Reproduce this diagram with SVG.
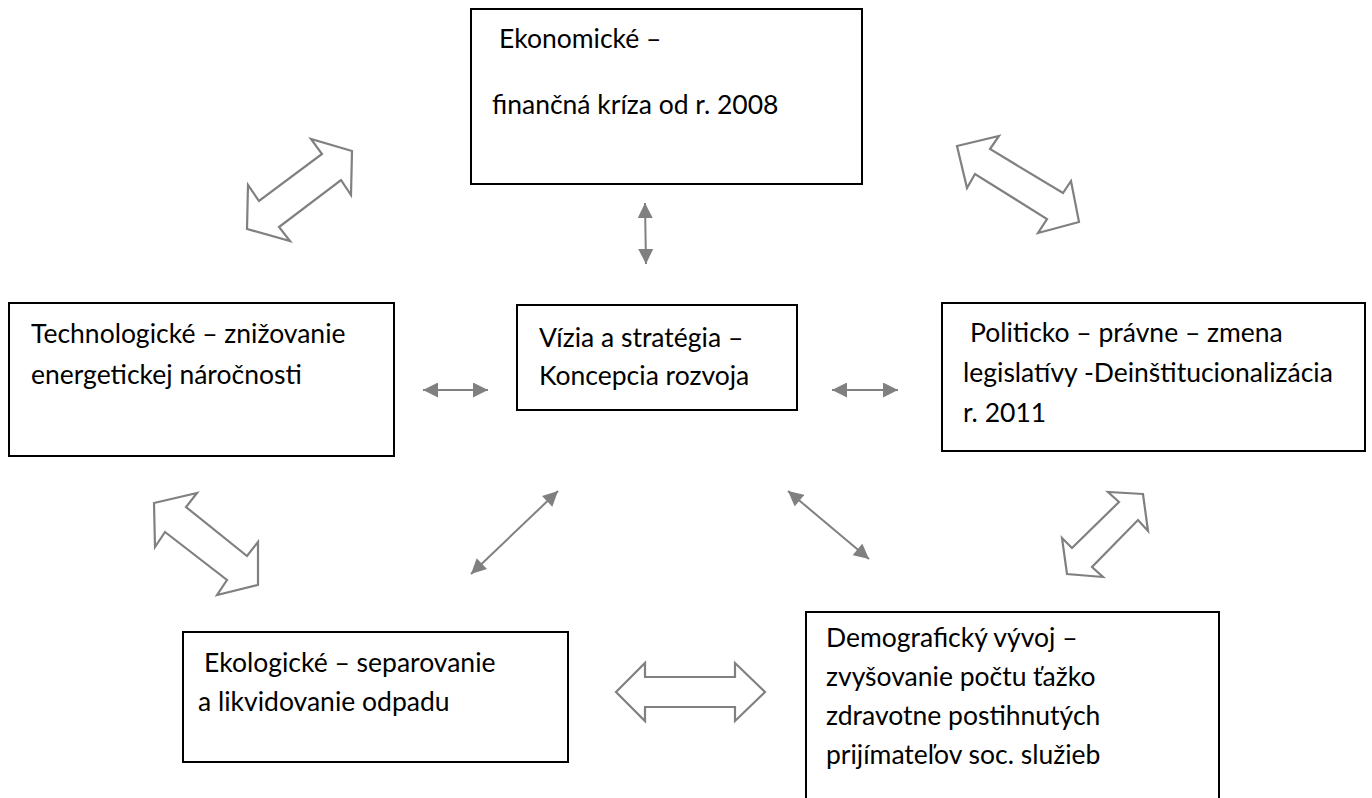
<svg xmlns="http://www.w3.org/2000/svg" width="1372" height="798" viewBox="0 0 1372 798">
<style>
.box{fill:#fff;stroke:#000;stroke-width:2}
.t{font-family:Lato,"Open Sans","Liberation Sans",sans-serif;font-size:26.5px;fill:#000}
.hollow{fill:#fff;stroke:#808080;stroke-width:2.2;stroke-linejoin:miter}
.solid{stroke:#808080;stroke-width:2;fill:none;marker-start:url(#ah);marker-end:url(#ah)}
</style>
<defs>
<marker id="ah" viewBox="0 0 10 10" refX="10" refY="5" markerWidth="16" markerHeight="15" markerUnits="userSpaceOnUse" orient="auto-start-reverse">
<path d="M0,0 L10,5 L0,10 z" fill="#808080"/>
</marker>
</defs>
<rect width="1372" height="798" fill="#fff"/>
<g id="connectors">
<polygon class="hollow" points="352,151 311,139 322,154 259,201 248,185 247,229 290,241 279,227 341,180 351,195"/>
<polygon class="hollow" points="957,146 999,136 990,149 1063,193 1071,181 1079,222 1038,233 1047,219 975,174 967,188"/>
<polygon class="hollow" points="154,503 197,493 186,507 247,556 258,542 258,585 217,595 227,580 165,532 155,547"/>
<polygon class="hollow" points="1143,494 1108,492 1119,502 1072,548 1062,538 1067,574 1103,577 1092,567 1138,520 1148,531"/>
<polygon class="hollow" points="616,692 645,663 645,677 735,677 735,663 765,692 735,721 735,707 645,707 645,721"/>
<line class="solid" x1="645" y1="203" x2="646" y2="264"/>
<line class="solid" x1="423" y1="390" x2="488" y2="390"/>
<line class="solid" x1="832" y1="390" x2="898" y2="390"/>
<line class="solid" x1="558" y1="491" x2="471" y2="574"/>
<line class="solid" x1="788" y1="491" x2="869" y2="559"/>
</g>
<g id="node-ekonomicke">
<rect class="box" x="471" y="9" width="391" height="175"/>
<text class="t" x="499" y="48">Ekonomické –</text>
<text class="t" x="492" y="114">finančná kríza od r. 2008</text>
</g>
<g id="node-technologicke">
<rect class="box" x="9" y="303" width="385" height="153"/>
<text class="t" x="31" y="343">Technologické – znižovanie</text>
<text class="t" x="31" y="384">energetickej náročnosti</text>
</g>
<g id="node-vizia">
<rect class="box" x="517" y="305" width="280" height="105"/>
<text class="t" x="539" y="347">Vízia a stratégia –</text>
<text class="t" x="539" y="385">Koncepcia rozvoja</text>
</g>
<g id="node-politicko">
<rect class="box" x="942" y="303" width="423" height="148"/>
<text class="t" x="970" y="342">Politicko – právne – zmena</text>
<text class="t" x="963" y="382">legislatívy -Deinštitucionalizácia</text>
<text class="t" x="963" y="422">r. 2011</text>
</g>
<g id="node-ekologicke">
<rect class="box" x="183" y="632" width="385" height="130"/>
<text class="t" x="204" y="672">Ekologické – separovanie</text>
<text class="t" x="198" y="711">a likvidovanie odpadu</text>
</g>
<g id="node-demograficky">
<path class="box" d="M806,800 V612 H1219 V800"/>
<text class="t" x="826" y="647">Demografický vývoj –</text>
<text class="t" x="826" y="686">zvyšovanie počtu ťažko</text>
<text class="t" x="826" y="725">zdravotne postihnutých</text>
<text class="t" x="826" y="764">prijímateľov soc. služieb</text>
</g>
</svg>
